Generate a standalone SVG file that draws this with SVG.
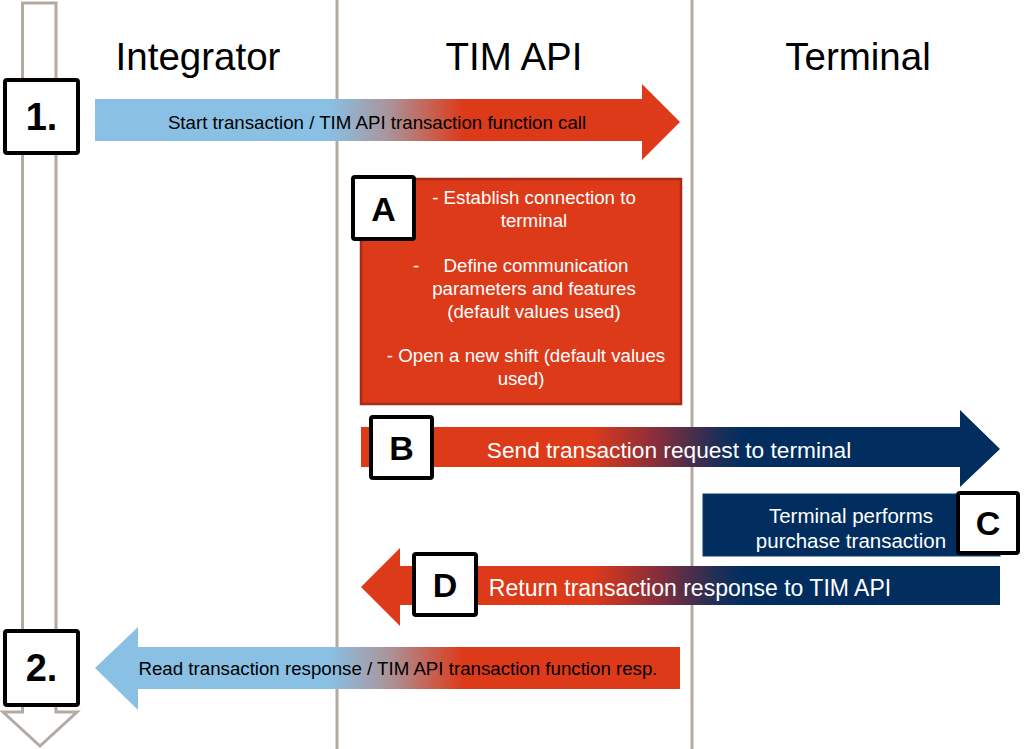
<svg xmlns="http://www.w3.org/2000/svg" width="1025" height="749" viewBox="0 0 1025 749">
<defs>
<linearGradient id="gBR" gradientUnits="userSpaceOnUse" x1="95" y1="0" x2="680" y2="0">
<stop offset="0" stop-color="#89c0e4"/><stop offset="0.4" stop-color="#89c0e4"/><stop offset="0.5" stop-color="#a9959c"/><stop offset="0.63" stop-color="#dd3a1a"/><stop offset="1" stop-color="#dd3a1a"/>
</linearGradient>
<linearGradient id="gRN" gradientUnits="userSpaceOnUse" x1="361" y1="0" x2="1000" y2="0">
<stop offset="0" stop-color="#dd3a1a"/><stop offset="0.36" stop-color="#dd3a1a"/><stop offset="0.46" stop-color="#8a2e3a"/><stop offset="0.56" stop-color="#1c2e58"/><stop offset="0.6" stop-color="#012e5f"/><stop offset="1" stop-color="#012e5f"/>
</linearGradient>
<style>
.lane{stroke:#b3aaa1;stroke-width:3;fill:none}
.hdr{font-family:"Liberation Sans",Arial,sans-serif;font-size:38.5px;fill:#000;text-anchor:middle}
.lbl{fill:#fff;stroke:#000;stroke-width:4}
.num{font-family:"Liberation Sans",Arial,sans-serif;font-size:38px;font-weight:bold;fill:#000;text-anchor:middle}
.let{font-family:"Liberation Sans",Arial,sans-serif;font-size:34px;font-weight:bold;fill:#000;text-anchor:middle}
.bt{font-family:"Liberation Sans",Arial,sans-serif;font-size:18.7px;fill:#000;text-anchor:middle}
.wt{font-family:"Liberation Sans",Arial,sans-serif;fill:#fff;text-anchor:middle}
</style>
</defs>
<rect width="1025" height="749" fill="#fff"/>
<g id="lanes">
<line class="lane" x1="337" y1="0" x2="337" y2="749"/>
<line class="lane" x1="692" y1="0" x2="692" y2="749"/>
</g>
<g id="timeline">
<path class="lane" d="M22.5,3 H56 V712 H77 L40,746 L3,712 H22.5 Z"/>
</g>
<g id="headers">
<text class="hdr" x="198" y="70">Integrator</text>
<text class="hdr" x="514" y="70">TIM API</text>
<text class="hdr" x="858" y="70">Terminal</text>
</g>
<g id="connectors">
<g id="arrow1">
<path d="M95,99 H642 V84 L680,122 L642,160 V141 H95 Z" fill="url(#gBR)"/>
<text class="bt" x="377" y="129">Start transaction / TIM API transaction function call</text>
</g>
<g id="arrowB">
<path d="M361,427 H960 V410 L1000,449 L960,487 V467 H361 Z" fill="url(#gRN)"/>
<text class="wt" x="669" y="458" font-size="22.7">Send transaction request to terminal</text>
</g>
<g id="arrowD">
<path d="M1000,566 V605 H400 V626 L361,587 L400,548 V566 Z" fill="url(#gRN)"/>
<text class="wt" x="690" y="596" font-size="23">Return transaction response to TIM API</text>
</g>
<g id="arrow2">
<path d="M680,647 V689 H138 V710 L95,668 L138,627 V647 Z" fill="url(#gBR)"/>
<text class="bt" x="398" y="675">Read transaction response / TIM API transaction function resp.</text>
</g>
</g>
<g id="nodeA">
<rect x="361" y="179" width="320" height="225" fill="#dd3a1a" stroke="#a92a14" stroke-width="2.5"/>
<g class="wt" font-size="18.7">
<text x="534" y="204">- Establish connection to</text>
<text x="534" y="227">terminal</text>
<text x="416" y="272">-</text>
<text x="536" y="272">Define communication</text>
<text x="534" y="295">parameters and features</text>
<text x="534" y="318">(default values used)</text>
<text x="526" y="362">- Open a new shift (default values</text>
<text x="521" y="385">used)</text>
</g>
<rect class="lbl" x="353" y="177" width="61" height="62" rx="2"/>
<text class="let" x="383.5" y="221">A</text>
</g>
<g id="nodeB">
<rect class="lbl" x="371" y="417" width="61" height="61" rx="2"/>
<text class="let" x="401.5" y="460">B</text>
</g>
<g id="nodeC">
<rect x="703" y="494" width="297" height="62" fill="#012e5f" stroke="#0f3a6b" stroke-width="1"/>
<text class="wt" x="851" y="523" font-size="20.5">Terminal performs</text>
<text class="wt" x="851" y="548" font-size="20.5">purchase transaction</text>
<rect class="lbl" x="958" y="493" width="60" height="60" rx="2"/>
<text class="let" x="988" y="535">C</text>
</g>
<g id="nodeD">
<rect class="lbl" x="414" y="554" width="62" height="61" rx="2"/>
<text class="let" x="445" y="597">D</text>
</g>
<g id="step1">
<rect class="lbl" x="5" y="80" width="73" height="73" rx="2"/>
<text class="num" x="41.5" y="130">1.</text>
</g>
<g id="step2">
<rect class="lbl" x="5" y="631" width="73" height="74" rx="2"/>
<text class="num" x="41.5" y="681">2.</text>
</g>
</svg>
